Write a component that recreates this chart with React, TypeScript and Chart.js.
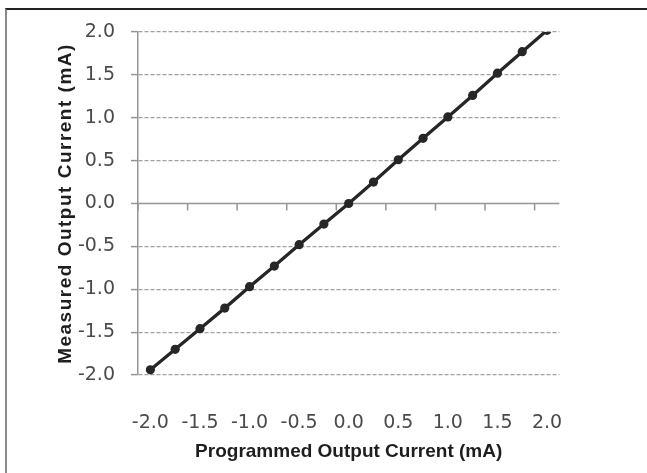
import React, { useEffect, useRef } from "react";
import { Chart, registerables } from "chart.js";

Chart.register(...registerables);

// Programmed output current (mA) — category positions
const programmed = [
  -2.0, -1.75, -1.5, -1.25, -1.0, -0.75, -0.5, -0.25, 0.0,
  0.25, 0.5, 0.75, 1.0, 1.25, 1.5, 1.75, 2.0,
];
// Measured output current (mA)
const measured = [
  -1.94, -1.7, -1.46, -1.22, -0.97, -0.73, -0.48, -0.24, 0.0,
  0.25, 0.51, 0.76, 1.01, 1.26, 1.52, 1.77, 2.02,
];
const yTickValues = [-2.0, -1.5, -1.0, -0.5, 0.0, 0.5, 1.0, 1.5, 2.0];
const xTickValues = [-2.0, -1.5, -1.0, -0.5, 0.0, 0.5, 1.0, 1.5, 2.0];
// axis tick marks on the zero line (between categories, every second one)
const xAxisMarks = [-2.125, -1.625, -1.125, -0.625, -0.125, 0.375, 0.875, 1.375, 1.875];

const X_TITLE = "Programmed Output Current (mA)";
const Y_TITLE = "Measured Output Current (mA)";

const W = 647;
const H = 473;

const zeroLinePlugin = {
  id: "zeroLine",
  beforeDatasetsDraw(chart: any) {
    const { ctx, chartArea, scales } = chart;
    const y0 = scales.y.getPixelForValue(0);
    ctx.save();
    ctx.strokeStyle = "#959595";
    ctx.lineWidth = 1.5;
    ctx.setLineDash([]);
    ctx.beginPath();
    ctx.moveTo(chartArea.left - 7, y0);
    ctx.lineTo(chartArea.right, y0);
    for (const v of xAxisMarks) {
      const px = scales.x.getPixelForValue(v);
      ctx.moveTo(px, y0);
      ctx.lineTo(px, y0 + 7);
    }
    ctx.stroke();
    ctx.restore();
  },
};

const yTitlePlugin = {
  id: "yTitle",
  afterDraw(chart: any) {
    const { ctx, chartArea } = chart;
    ctx.save();
    ctx.translate(66, (chartArea.top + chartArea.bottom) / 2);
    ctx.rotate(-Math.PI / 2);
    ctx.font = 'bold 19px "Liberation Sans", Arial, sans-serif';
    (ctx as any).letterSpacing = "1.5px";
    ctx.fillStyle = "#1e1e1e";
    ctx.textAlign = "center";
    ctx.textBaseline = "middle";
    ctx.fillText(Y_TITLE, 0, 0);
    ctx.restore();
  },
};

export default function App() {
  const ref = useRef<HTMLCanvasElement | null>(null);

  useEffect(() => {
    if (!ref.current) return;
    const chart = new Chart(ref.current, {
      type: "line",
      data: {
        datasets: [
          {
            data: programmed.map((x, i) => ({ x, y: measured[i] })),
            borderColor: "#262626",
            backgroundColor: "#262626",
            borderWidth: 3.3,
            pointRadius: 4.6,
            pointBackgroundColor: "#262626",
            pointBorderWidth: 0,
            tension: 0,
          },
        ],
      },
      options: {
        responsive: false,
        animation: false,
        events: [],
        layout: { padding: { left: 0, top: 32, right: 87.6, bottom: 0 } },
        plugins: {
          legend: { display: false },
          tooltip: { enabled: false },
        },
        scales: {
          x: {
            type: "linear",
            min: -2.125,
            max: 2.125,
            afterBuildTicks: (s: any) => {
              s.ticks = xTickValues.map((v) => ({ value: v }));
            },
            afterFit: (s: any) => {
              s.height = 98;
            },
            grid: { display: false },
            border: { display: false },
            ticks: {
              padding: 29,
              color: "#4a4a4a",
              font: { family: '"DejaVu Sans", sans-serif', size: 19 },
              maxRotation: 0,
              callback: (v: any) => Number(v).toFixed(1),
            },
            title: {
              display: true,
              text: X_TITLE,
              color: "#1e1e1e",
              font: { family: '"Liberation Sans", Arial, sans-serif', size: 19, weight: "bold" },
              padding: { top: 0, bottom: 10 },
            },
          },
          y: {
            type: "linear",
            min: -2,
            max: 2,
            afterBuildTicks: (s: any) => {
              s.ticks = yTickValues.map((v) => ({ value: v }));
            },
            afterFit: (s: any) => {
              s.width = 138;
            },
            grid: {
              color: (c: any) => (c.tick && c.tick.value === 0 ? "rgba(0,0,0,0)" : "#a0a0a0"),
              lineWidth: 1.2,
              tickLength: 7,
              tickColor: (c: any) => (c.tick && c.tick.value === 0 ? "rgba(0,0,0,0)" : "#959595"),
              tickWidth: 1.5,
              tickBorderDash: [],
            } as any,
            border: { display: true, color: "#959595", width: 1.5, dash: [4, 2] },
            ticks: {
              padding: 16,
              color: "#4a4a4a",
              font: { family: '"DejaVu Sans", sans-serif', size: 19 },
              callback: (v: any) => Number(v).toFixed(1),
            },
          },
        },
      } as any,
      plugins: [zeroLinePlugin, yTitlePlugin],
    });
    return () => chart.destroy();
  }, []);

  return (
    <div style={{ position: "absolute", left: 0, top: 0, width: W, height: H, background: "#ffffff" }}>
      <canvas ref={ref} width={W} height={H} style={{ position: "absolute", left: 0, top: 0 }} />
      <div
        style={{
          position: "absolute",
          left: 5,
          top: 8,
          width: W - 5,
          height: H - 8,
          borderTop: "2px solid #222222",
          borderLeft: "2px solid #8a8a8a",
          boxSizing: "border-box",
          pointerEvents: "none",
        }}
      />
    </div>
  );
}
